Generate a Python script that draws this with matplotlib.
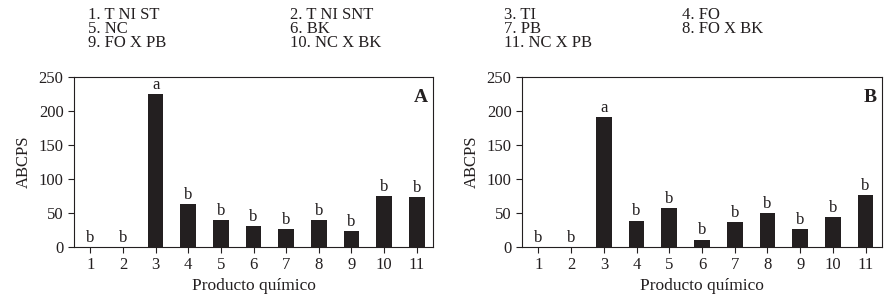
import matplotlib.pyplot as plt
import numpy as np

plt.rcParams['font.family'] = ['Liberation Serif', 'DejaVu Serif']

productos = [1, 2, 3, 4, 5, 6, 7, 8, 9, 10, 11]
abcps_a = [0, 0, 224.6, 63, 39.6, 30.8, 26.4, 39.6, 23.5, 74.9, 73.4]
abcps_b = [0, 0, 190.8, 38.6, 57.2, 10.8, 36.7, 49.9, 26.4, 44, 76.3]
letras_a = ["b", "b", "a", "b", "b", "b", "b", "b", "b", "b", "b"]
letras_b = ["b", "b", "a", "b", "b", "b", "b", "b", "b", "b", "b"]
leyenda = ["1. T NI ST", "2. T NI SNT", "3. TI", "4. FO",
           "5. NC", "6. BK", "7. PB", "8. FO X BK",
           "9. FO X PB", "10. NC X BK", "11. NC X PB"]

fig = plt.figure(figsize=(8.94, 3.04), dpi=100)
ax_a = fig.add_axes([74 / 894, 1 - 247 / 304, 359 / 894, 170.3 / 304])
ax_b = fig.add_axes([522 / 894, 1 - 247 / 304, 360 / 894, 170.3 / 304])

color = "#231f20"
for ax, vals, letras, panel in [(ax_a, abcps_a, letras_a, "A"), (ax_b, abcps_b, letras_b, "B")]:
    ax.bar(productos, vals, 0.48, color=color)
    for x, v, l in zip(productos, vals, letras):
        ax.text(x, v + 2, l, ha="center", va="bottom", fontsize=12, color=color)
    ax.set_xlim(0.5, 11.5)
    ax.set_ylim(0, 250)
    ax.set_xticks(productos)
    ax.set_yticks([0, 50, 100, 150, 200, 250])
    ax.tick_params(labelsize=12, colors=color, length=4, width=0.8)
    for s in ax.spines.values():
        s.set_linewidth(0.8)
        s.set_color(color)
    ax.set_ylabel("ABCPS", fontsize=12, color=color, labelpad=5)
    ax.set_xlabel("Producto químico", fontsize=12.5, color=color, labelpad=3)
    ax.text(0.985, 0.93, panel, transform=ax.transAxes, ha="right", va="top",
            fontsize=14, fontweight="bold", color=color)

# legend text block at the top, one text per column
col_x = [88, 290, 504, 682]
for c in range(4):
    lineas = leyenda[c::4]
    fig.text(col_x[c] / 894, 1 - 7 / 304, "\n".join(lineas), ha="left", va="top",
             fontsize=12, color=color, linespacing=0.84)

plt.savefig("out.png", dpi=100)
plt.close()
